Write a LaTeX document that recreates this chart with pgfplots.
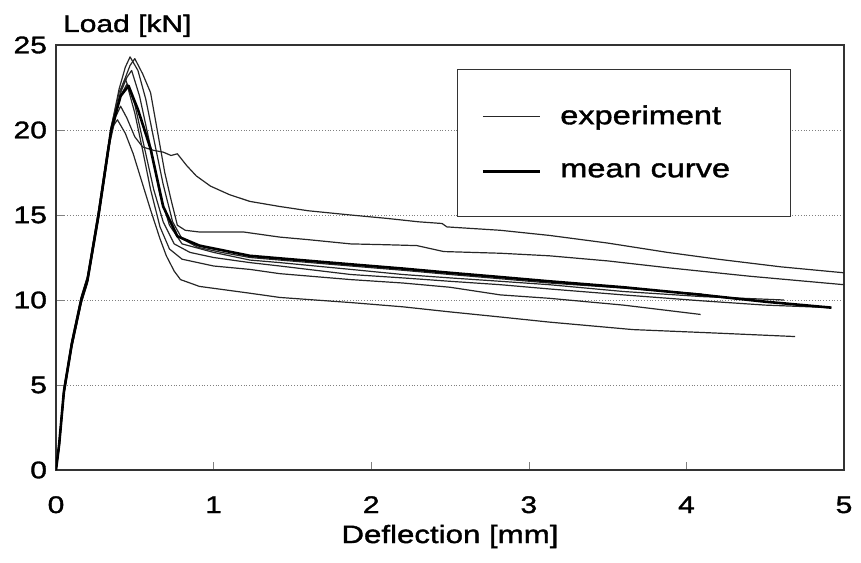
\documentclass[border=0pt]{standalone}
\usepackage{fontspec}
\setmainfont{Liberation Sans}[FakeStretch=1.25, FakeBold=1.5]
\usepackage{pgfplots}
\pgfplotsset{compat=1.18}

\begin{document}
\begin{tikzpicture}
\begin{axis}[
    scale only axis,
    width=394pt, height=212.5pt,
    xmin=0, xmax=5, ymin=0, ymax=25,
    xtick={0,1,2,3,4,5}, ytick={0,5,10,15,20,25},
    tick align=inside, major tick length=4pt,
    xtick pos=bottom, ytick pos=left,
    ymajorgrids,
    grid style={densely dotted, black!50, line width=0.4pt},
    axis line style={black!80, line width=0.7pt},
    /pgf/number format/assume math mode=true,
    tick label style={font=\fontsize{12}{14}\selectfont},
    xticklabel style={anchor=base, yshift=-21.5pt},
    yticklabel style={xshift=-1pt},
    xlabel={Deflection [mm]},
    every axis x label/.style={at={(rel axis cs:0.5,0)}, anchor=base, yshift=-36.5pt, font=\fontsize{12.5}{14}\selectfont},
    ylabel={Load [kN]},
    every axis y label/.style={at={(rel axis cs:0,1)}, anchor=base west, yshift=6.5pt, font=\fontsize{12}{14}\selectfont},
    legend style={at={(axis cs:2.545,23.6)}, anchor=north west, draw=black!80, line width=0.6pt,
        inner xsep=12pt, inner ysep=16pt, row sep=14pt, column sep=7.5pt,
        font=\fontsize{13}{15}\selectfont, nodes={inner sep=2pt}},
    legend cell align=left,
    legend image code/.code={\draw[#1] (0pt,0pt) -- (28.5pt,0pt);},
    every axis plot/.append style={line join=round},
]
\coordinate (bl) at (rel axis cs:0,0);
\coordinate (tr) at (rel axis cs:1,1);

% experiments
\addplot[black!85, line width=0.6pt] coordinates {
(0,0) (0.02,1.4) (0.05,4.5) (0.1,7.3) (0.16,9.9) (0.2,11.1) (0.27,14.9) (0.34,19.2) (0.38,20.8) (0.41,21.4) (0.45,20.7) (0.5,19.6) (0.55,19.0) (0.62,18.8) (0.68,18.7) (0.73,18.5) (0.77,18.6) (0.83,17.9) (0.89,17.3) (0.98,16.7) (1.1,16.2) (1.23,15.8) (1.42,15.5) (1.6,15.25) (1.87,15.0) (2.1,14.8) (2.3,14.6) (2.45,14.5) (2.48,14.3) (2.82,14.1) (3.13,13.8) (3.5,13.35) (3.88,12.8) (4.2,12.4) (4.6,11.95) (5.0,11.6)
};
\addlegendentry{experiment\hspace*{16pt}}

\addplot[black!85, line width=0.6pt, forget plot] coordinates {
(0,0) (0.02,1.6) (0.05,4.7) (0.1,7.5) (0.17,10.3) (0.2,11.3) (0.27,15.1) (0.35,20.0) (0.42,22.6) (0.47,23.8) (0.5,24.2) (0.55,23.3) (0.6,22.2) (0.65,19.6) (0.69,17.5) (0.73,15.9) (0.77,14.4) (0.82,14.1) (0.91,14.0) (1.05,14.0) (1.19,14.0) (1.42,13.7) (1.6,13.55) (1.87,13.3) (2.1,13.25) (2.29,13.2) (2.46,12.85) (2.82,12.75) (3.13,12.6) (3.5,12.3) (3.88,11.9) (4.4,11.4) (5.0,10.9)
};

\addplot[black!85, line width=0.6pt, forget plot] coordinates {
(0,0) (0.02,1.5) (0.05,4.6) (0.1,7.4) (0.16,10.0) (0.2,11.2) (0.27,15.0) (0.35,20.1) (0.4,22.4) (0.44,23.7) (0.47,24.3) (0.52,23.5) (0.57,21.8) (0.62,19.5) (0.68,16.8) (0.74,14.6) (0.8,13.6) (0.9,13.1) (1.05,12.8) (1.23,12.5) (1.42,12.35) (1.87,12.0) (2.2,11.75) (2.5,11.5) (2.82,11.25) (3.13,11.0) (3.6,10.7) (4.1,10.35)
};

\addplot[black!85, line width=0.6pt, forget plot] coordinates {
(0,0) (0.02,1.3) (0.05,4.4) (0.1,7.2) (0.16,9.8) (0.2,11.0) (0.27,14.8) (0.35,19.8) (0.41,22.2) (0.45,23.1) (0.48,23.5) (0.53,22.0) (0.6,19.0) (0.66,16.2) (0.72,14.4) (0.8,13.3) (1.0,12.8) (1.23,12.35) (1.42,12.2) (1.87,11.8) (2.2,11.5) (2.5,11.3) (2.82,11.1) (3.13,10.9) (3.6,10.5) (4.1,10.2) (4.62,10.0)
};

\addplot[black!85, line width=0.6pt, forget plot] coordinates {
(0,0) (0.02,1.5) (0.05,4.7) (0.1,7.5) (0.16,10.1) (0.2,11.3) (0.27,15.2) (0.35,20.2) (0.4,22.2) (0.44,23.0) (0.5,21.5) (0.56,19.0) (0.62,16.5) (0.68,14.6) (0.75,13.3) (0.85,12.8) (1.0,12.5) (1.23,12.2) (1.42,12.0) (1.87,11.5) (2.2,11.3) (2.5,11.1) (2.82,10.9) (3.13,10.65) (3.6,10.3) (4.1,9.95) (4.5,9.7) (4.92,9.55)
};

\addplot[black!85, line width=0.6pt, forget plot] coordinates {
(0,0) (0.02,1.4) (0.05,4.5) (0.1,7.3) (0.16,9.9) (0.2,11.1) (0.27,14.9) (0.35,19.9) (0.41,22.0) (0.45,22.7) (0.5,21.0) (0.55,18.8) (0.6,16.5) (0.66,14.3) (0.72,13.0) (0.8,12.4) (1.0,12.0) (1.23,11.8) (1.42,11.55) (1.87,11.2) (2.2,11.0) (2.5,10.75) (2.82,10.3) (3.13,10.1) (3.6,9.7) (4.09,9.15)
};

\addplot[black!85, line width=0.6pt, forget plot] coordinates {
(0,0) (0.02,1.6) (0.05,4.8) (0.1,7.6) (0.16,10.2) (0.2,11.4) (0.27,15.3) (0.33,19.0) (0.36,20.2) (0.39,20.6) (0.44,19.8) (0.49,18.6) (0.55,16.8) (0.6,15.3) (0.66,13.6) (0.7,12.6) (0.75,11.7) (0.79,11.2) (0.91,10.8) (1.23,10.4) (1.42,10.15) (1.87,9.85) (2.2,9.6) (2.5,9.3) (2.82,9.0) (3.13,8.7) (3.66,8.26) (4.2,8.05) (4.69,7.85)
};

% mean curve
\addplot[black, line width=1.3pt] coordinates {
(0,0) (0.02,1.5) (0.05,4.6) (0.1,7.4) (0.16,10.0) (0.2,11.2) (0.27,15.0) (0.35,20.0) (0.41,22.0) (0.46,22.6) (0.52,21.2) (0.6,18.9) (0.68,15.5) (0.77,13.75) (0.91,13.2) (1.23,12.6) (1.42,12.45) (1.87,12.1) (2.2,11.85) (2.5,11.6) (2.82,11.35) (3.13,11.1) (3.6,10.75) (4.1,10.3) (4.5,9.9) (4.92,9.55)
};
\addlegendentry{mean curve\hspace*{16pt}}

\end{axis}
\path (bl) ++(-28pt,-46pt) coordinate (a);
\path (tr) ++(8.5pt,22.5pt) coordinate (b);
\path (a) rectangle (b);
\end{tikzpicture}
\end{document}
